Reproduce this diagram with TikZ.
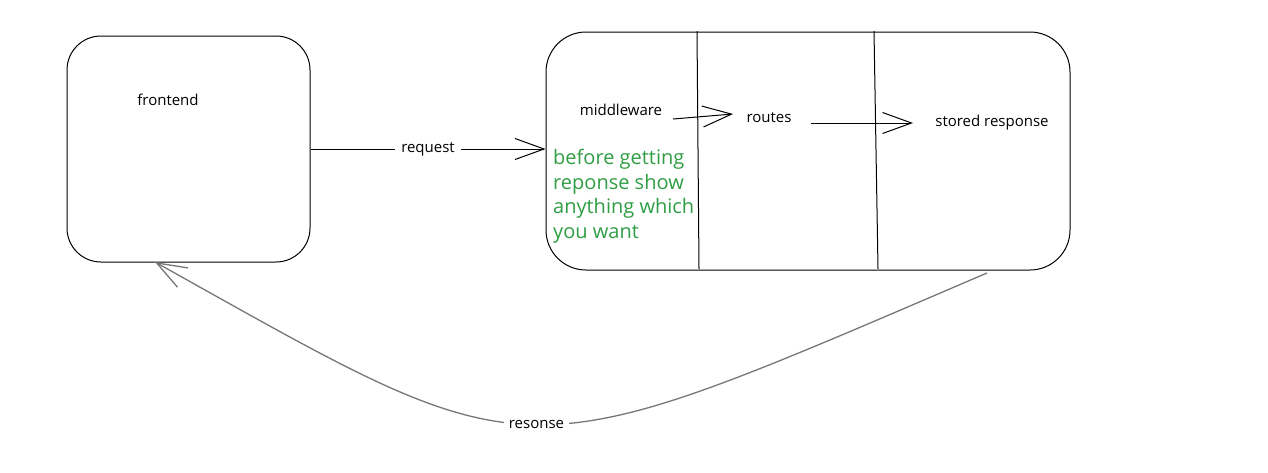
\documentclass[tikz,border=0pt]{standalone}
\usepackage{fontspec}
\setmainfont{Open Sans}
\usetikzlibrary{arrows.meta}
\definecolor{exgreen}{HTML}{2F9E44}
\definecolor{respgray}{HTML}{777777}
\begin{document}
\begin{tikzpicture}[x=1pt,y=-1pt,
  box/.style={draw, line width=1pt, inner sep=0pt},
  lbl/.style={font=\fontsize{15}{18}\selectfont, inner sep=1pt, text=black},
  arr/.style={line width=1pt, -{Straight Barb[length=29pt,width=21pt]}},
  divider/.style={line width=1pt}]
\useasboundingbox (0,0) rectangle (1268,472);
\fill[white] (0,0) rectangle (1268,472);
% boxes
\node[box, rounded corners=34pt, minimum width=243pt, minimum height=226pt] (fe) at (188.5,149) {};
\node[box, rounded corners=40pt, minimum width=524pt, minimum height=238pt] (srv) at (808,151) {};
% dividers
\coordinate (d1t) at (697,31); \coordinate (d1b) at (699,269);
\coordinate (d2t) at (874,31); \coordinate (d2b) at (878,269);
\draw[divider] (d1t) -- (d1b);
\draw[divider] (d2t) -- (d2b);
% labels
\node[lbl] (fet) at (168,100) {frontend};
\node[lbl] (mw) at (621,110) {middleware};
\node[lbl] (rt) at (769,118) {routes};
\node[lbl] (sr) at (992,123) {stored response};
\node[anchor=north west, text=exgreen, font=\fontsize{20}{24.5}\selectfont, align=left, inner sep=0pt] (note) at (553,149) {before getting\\reponse show\\anything which\\you want};
% connectors
\draw[arr] (fe.east) -- (fe.east -| srv.west) node[midway, fill=white, lbl, inner sep=6pt] {request};
\coordinate (mwa) at (673,119);
\coordinate (rta) at (733,114);
\draw[arr] (mwa) -- (rta);
\coordinate (rtb) at (811,123);
\coordinate (sra) at (913,123);
\draw[arr] (rtb) -- (sra);
\coordinate (rs) at (987,273);
\coordinate (rtip) at (155,262);
\draw[respgray, line width=1.3pt, -{Straight Barb[length=30pt,width=22pt]}] (rs) .. controls (510,477) and (540,477) .. (rtip) node[pos=0.5, fill=white, lbl, inner sep=5pt] {resonse};
\end{tikzpicture}
\end{document}
